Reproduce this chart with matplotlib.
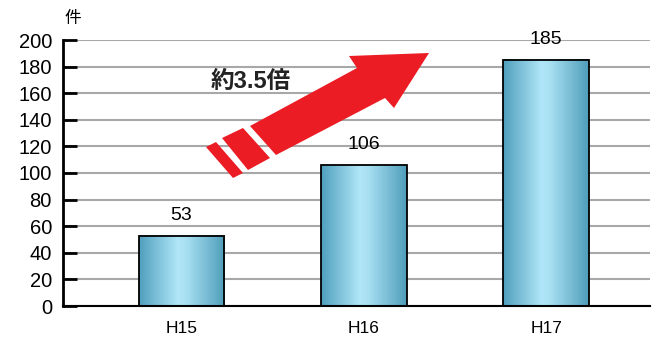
import numpy as np
import matplotlib
matplotlib.use("Agg")
import matplotlib.pyplot as plt
from matplotlib.colors import LinearSegmentedColormap
from matplotlib.patches import Polygon

plt.rcParams['font.family'] = ['Liberation Sans', 'Noto Sans CJK JP']

# data
categories = ['H15', 'H16', 'H17']
counts = [53, 106, 185]
yticks = [0, 20, 40, 60, 80, 100, 120, 140, 160, 180, 200]

fig = plt.figure(figsize=(6.52, 3.38), dpi=100)
ax = fig.add_axes([63/652, 32/338, 1 - 63/652 - 0.003, (306 - 40)/338])

x = np.arange(len(categories))
width = 0.47

# gradient fill for the bars
cmap = LinearSegmentedColormap.from_list(
    'tube', [(0, '#4f9fbd'), (0.45, '#b0e6f7'), (0.55, '#a8e0f2'), (1, '#4f9dba')])
grad = np.linspace(0, 1, 256).reshape(1, -1)
for xi, v in zip(x, counts):
    ax.imshow(grad, cmap=cmap, aspect='auto', zorder=2,
              extent=(xi - width/2, xi + width/2, 0, v))
ax.bar(x, counts, width=width, fill=False, edgecolor='black', linewidth=1.3, zorder=3)

for xi, v in zip(x, counts):
    ax.text(xi, v + 9, str(v), ha='center', va='bottom', fontsize=14)

ax.set_xlim(-0.65, 2.57)
ax.set_ylim(0, 200)
ax.set_yticks(yticks)
ax.set_xticks(x)
ax.set_xticklabels(categories, fontsize=12.5)
ax.tick_params(axis='x', length=0, pad=11)
ax.tick_params(axis='y', direction='in', length=10, width=2, labelsize=14.5, pad=8)
ax.yaxis.grid(True, color='#a8a8a8', linewidth=1.5)
ax.set_axisbelow(True)
for s in ['top', 'right']:
    ax.spines[s].set_visible(False)
ax.spines['left'].set_linewidth(2)
ax.spines['bottom'].set_linewidth(1.5)

fig.text(73/652, 1 - 18/338, '件', ha='center', va='center', fontsize=12)

# decorative red arrow (in pixel coordinates of the figure)
def px(pts):
    return [(a/652, 1 - b/338) for a, b in pts]

red = '#ec1c24'
arrow = [(250, 126), (357, 68), (349, 56), (429, 53), (394, 108), (385, 98), (276, 155)]
stripe1 = [(222, 138), (243, 128), (270, 158), (248, 170)]
stripe2 = [(206, 147), (216, 142), (243, 173), (233, 178)]
for poly in [arrow, stripe1, stripe2]:
    fig.patches.append(Polygon(px(poly), closed=True, transform=fig.transFigure,
                               facecolor=red, edgecolor='none', zorder=5))

fig.text(251/652, 1 - 82/338, '約3.5倍', ha='center', va='center',
         fontsize=17, fontweight='bold', color='#222222', zorder=6)

fig.savefig('out.png', dpi=100)
